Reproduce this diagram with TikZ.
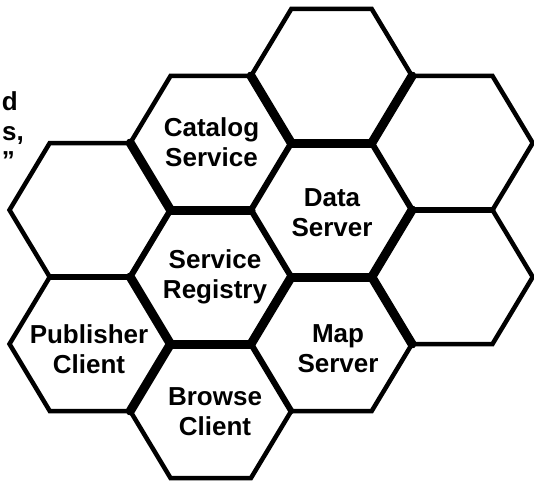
\documentclass[tikz,border=0pt]{standalone}
\usepackage{fontspec}
\setmainfont{Liberation Sans}
\begin{document}
\begin{tikzpicture}[x=1pt,y=-1pt,
  hexline/.style={draw=black,line width=4.5pt,line join=miter},
  midedge/.style={draw=black,line width=6pt,line cap=round},
  thickedge/.style={draw=black,line width=9pt,line cap=round},
  label/.style={font=\fontsize{26}{30}\selectfont\bfseries,align=center,inner sep=0pt},
  frag/.style={font=\fontsize{26}{30}\selectfont\bfseries,inner sep=0pt,anchor=base east}]
\useasboundingbox (0,0) rectangle (534,481);
\newcommand\hexcell[2]{\draw[hexline,shift={(#1,#2)}] (80.5,0) -- (40.25,67) -- (-40.25,67) -- (-80.5,0) -- (-40.25,-67) -- (40.25,-67) -- cycle;}
% hexagons
\hexcell{90}{210}
\hexcell{90}{344}
\hexcell{210.75}{143}
\hexcell{210.75}{277}
\hexcell{210.75}{411}
\hexcell{331.5}{76}
\hexcell{331.5}{210}
\hexcell{331.5}{344}
\hexcell{452.25}{143}
\hexcell{452.25}{277}
% heavier shared edges
\draw[thickedge] (130.25,143) -- (170.5,210);
\draw[thickedge] (251,76) -- (291.25,143);
\draw[thickedge] (170.5,210) -- (251,210);
\draw[thickedge] (291.25,143) -- (371.75,143);
\draw[thickedge] (371.75,143) -- (412,76);
\draw[thickedge] (412,210) -- (371.75,277);
\draw[thickedge] (291.25,277) -- (371.75,277);
\draw[thickedge] (371.75,277) -- (412,344);
\draw[thickedge] (251,344) -- (291.25,277);
\draw[thickedge] (170.5,344) -- (251,344);
\draw[thickedge] (130.25,277) -- (170.5,344);
\draw[thickedge] (170.5,344) -- (130.25,411);
\draw[midedge] (291.25,143) -- (251,210);
\draw[midedge] (371.75,143) -- (412,210);
\draw[midedge] (412,210) -- (492.5,210);
\draw[midedge] (251,210) -- (291.25,277);
\draw[midedge] (251,344) -- (291.25,411);
\draw[midedge] (130.25,277) -- (170.5,210);
\draw[midedge] (49.75,277) -- (130.25,277);
% labels
\node[label] (catalog) at (211.5,142) {Catalog\\Service};
\node[label] (data) at (332,213) {Data\\Server};
\node[label] (registry) at (215,277) {Service\\Registry};
\node[label] (publisher) at (89,349) {Publisher\\Client};
\node[label] (map) at (338,349) {Map\\Server};
\node[label] (browse) at (215,412) {Browse\\Client};
% fragments at left edge
\node[frag] (fragA) at (18,111) {d};
\node[frag] (fragB) at (24,140) {s,};
\node[frag] (fragC) at (15,169) {”};
\end{tikzpicture}
\end{document}
